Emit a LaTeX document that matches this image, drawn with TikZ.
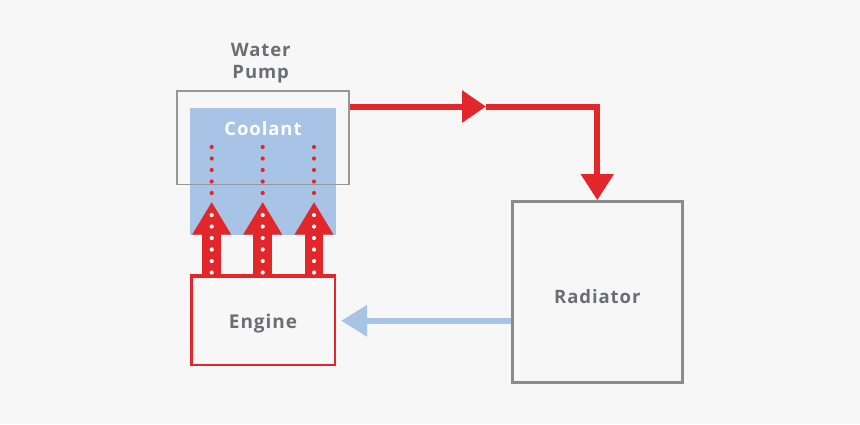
\documentclass[tikz,border=0pt]{standalone}
\usepackage{fontspec}
\setmainfont{Open Sans}[LetterSpace=5]
\usepackage{tikz}
\usetikzlibrary{arrows.meta}
\usetikzlibrary{calc}
\tikzset{>=latex}
\definecolor{hotred}{HTML}{E3262A}
\definecolor{coolblue}{HTML}{A7C4E6}
\definecolor{boxgray}{HTML}{8C8C8F}
\definecolor{textgray}{HTML}{6D6E71}
\definecolor{paper}{HTML}{F7F7F7}
\tikzset{label text/.style = {font=\fontsize{18.5}{22}\selectfont\bfseries, text=textgray, align=center}}
\tikzset{part/.style = {shape=rectangle, draw=boxgray, line width=3pt}}
\tikzset{flow/.style = {draw=hotred, line width=6pt}}
\tikzset{heat/.style = {draw=hotred, line width=18.7pt, -{Triangle[width=36.7pt,length=33pt]}}}
\tikzset{dots/.style = {line width=4.2pt, line cap=round, dash pattern=on 0pt off 11.5pt}}

\begin{document}
\begin{tikzpicture}[x=1pt, y=-1pt]
                    \fill[paper] (0,0) rectangle (860,424);
                    \useasboundingbox (0,0) rectangle (860,424);

                    \node[fill=coolblue, minimum width=145.7pt, minimum height=126.7pt, inner sep=0pt] (coolant) at (263,171.4) {};
                    \node[label text, text=white] (coolantname) at (263,129) {Coolant};
                    \node[shape=rectangle, draw=boxgray!90, line width=1.5pt, minimum width=172pt, minimum height=93.5pt] (pump) at (263,137.9) {};
                    \node[label text] (pumpname) at (260.7,63.5) {Water\\Pump};
                    \node[part, minimum width=170pt, minimum height=180.6pt] (radiator) at (597.3,292) {};
                    \node[label text] (radiatorname) at (597.3,297) {Radiator};

                    \foreach \i/\x in {1/211.7,2/262.7,3/314} {
                      \coordinate (h\i) at (\x,201.7);
                    }
                    \node[part, draw=hotred, line width=2.7pt, minimum width=143.7pt, minimum height=88.3pt] (engine) at (263,320.8) {};
                    \node[label text, font=\fontsize{19}{22}\selectfont\bfseries] (enginename) at (263,323.5) {Engine};
                    \foreach \i in {1,2,3} {
                      \draw[heat] (engine.north -| h\i) -- (h\i);
                    }
                    \draw[draw=hotred, line width=2.7pt] (engine.north west) -- (engine.north east);

                    \coordinate (mid) at (486,106.5);
                    \coordinate (turn) at (597.3,106.5);
                    \draw[flow, -{Triangle[width=31pt,length=24pt]}] (pump.east |- mid) -- (mid);
                    \draw[flow, -{Triangle[width=31.5pt,length=26pt]}] (mid) -- (turn) -- (radiator.north);

                    \draw[draw=coolblue, line width=5.5pt, -{Triangle[width=30.6pt,length=26pt]}, shorten >=5pt] (radiator.west |- engine.east) -- (engine.east);

                    \foreach \i in {1,2,3} {
                      \draw[dots, draw=hotred] ($(h\i)+(0,-54.7)$) -- ($(h\i)+(0,0.3)$);
                      \draw[dots, draw=white] ($(h\i)+(0,13.3)$) -- ($(h\i)+(0,82.3)$);
                    }
                  \end{tikzpicture}
\end{document}
